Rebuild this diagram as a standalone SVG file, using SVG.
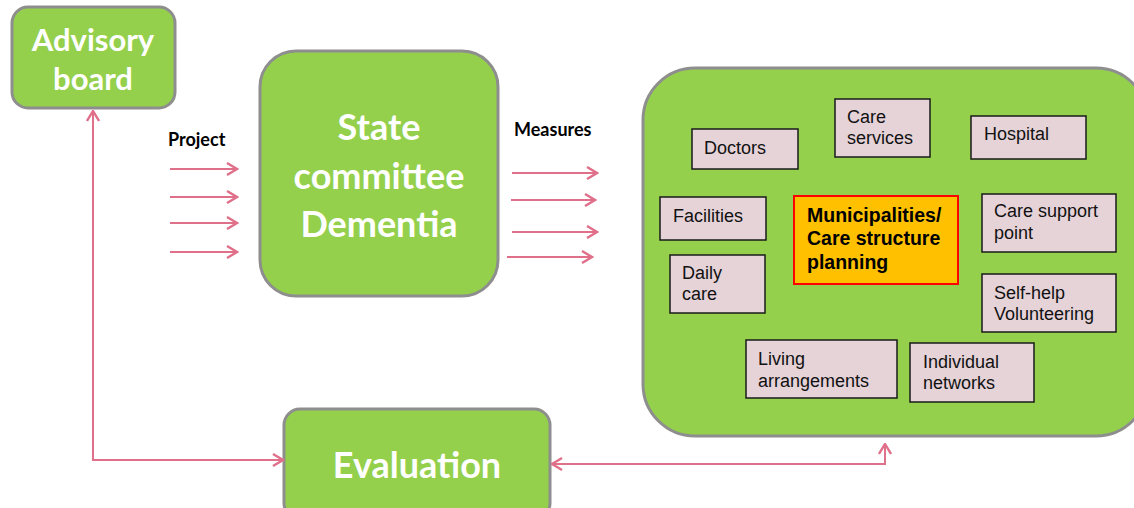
<svg xmlns="http://www.w3.org/2000/svg" width="1134" height="508" viewBox="0 0 1134 508">
  <style>
    .green { fill: #94d04c; stroke: #8e8e8e; stroke-width: 3; }
    .big { font-family: Lato, "Open Sans", "Liberation Sans", sans-serif; font-weight: bold; fill: #ffffff; text-anchor: middle; }
    .lbl { font-family: Lato, "Liberation Sans", sans-serif; font-weight: bold; font-size: 18px; fill: #000000; }
    .item rect { fill: #e6d3d8; stroke: #1a1a1a; stroke-width: 1.5; }
    .item text { font-family: "Liberation Sans", Arial, sans-serif; font-size: 18px; fill: #111111; }
    .link { fill: none; stroke: #e0708a; stroke-width: 2; }
  </style>
  <defs>
    <marker id="head" viewBox="0 0 14 14" refX="12.5" refY="7" markerWidth="14" markerHeight="14" markerUnits="userSpaceOnUse" orient="auto-start-reverse">
      <path d="M2.5,1 L12.5,7 L2.5,13" fill="none" stroke="#e0708a" stroke-width="2.4"/>
    </marker>
  </defs>

  <!-- main blocks -->
  <g id="advisory-board">
    <rect class="green" x="12" y="7" width="163" height="101" rx="16"/>
    <text class="big" font-size="31" x="93" y="51">Advisory</text>
    <text class="big" font-size="31" x="93" y="90">board</text>
  </g>

  <g id="state-committee">
    <rect class="green" x="260" y="51" width="238" height="245" rx="36"/>
    <text class="big" font-size="36" x="379" y="140">State</text>
    <text class="big" font-size="36" x="379" y="189">committee</text>
    <text class="big" font-size="36" x="379" y="237">Dementia</text>
  </g>

  <g id="evaluation">
    <rect class="green" x="284" y="409" width="266" height="110" rx="16"/>
    <text class="big" font-size="36" x="417" y="478">Evaluation</text>
  </g>

  <g id="care-network">
    <rect class="green" x="643" y="68" width="505" height="368" rx="52"/>
  </g>

  <!-- labels -->
  <text class="lbl" x="168" y="146">Project</text>
  <text class="lbl" x="514" y="136">Measures</text>

  <!-- care network items -->
  <g id="doctors" class="item">
    <rect x="692" y="129" width="106" height="40"/>
    <text x="704" y="154">Doctors</text>
  </g>
  <g id="care-services" class="item">
    <rect x="835" y="99" width="95" height="58"/>
    <text x="847" y="123">Care</text>
    <text x="847" y="144">services</text>
  </g>
  <g id="hospital" class="item">
    <rect x="971" y="116" width="115" height="43"/>
    <text x="984" y="140">Hospital</text>
  </g>
  <g id="facilities" class="item">
    <rect x="660" y="197" width="106" height="43"/>
    <text x="673" y="222">Facilities</text>
  </g>
  <g id="municipalities">
    <rect x="794" y="196" width="164" height="88" fill="#ffc000" stroke="#ff0000" stroke-width="2"/>
    <text font-family="'Liberation Sans', Arial, sans-serif" font-weight="bold" font-size="19.5" fill="#000000">
      <tspan x="807" y="222">Municipalities/</tspan>
      <tspan x="807" y="245">Care structure</tspan>
      <tspan x="807" y="269">planning</tspan>
    </text>
  </g>
  <g id="care-support-point" class="item">
    <rect x="982" y="194" width="134" height="58"/>
    <text x="994" y="217">Care support</text>
    <text x="994" y="239">point</text>
  </g>
  <g id="daily-care" class="item">
    <rect x="670" y="255" width="95" height="58"/>
    <text x="682" y="279">Daily</text>
    <text x="682" y="300">care</text>
  </g>
  <g id="self-help" class="item">
    <rect x="982" y="274" width="134" height="58"/>
    <text x="994" y="299">Self-help</text>
    <text x="994" y="320">Volunteering</text>
  </g>
  <g id="living-arrangements" class="item">
    <rect x="746" y="340" width="151" height="58"/>
    <text x="758" y="365">Living</text>
    <text x="758" y="387">arrangements</text>
  </g>
  <g id="individual-networks" class="item">
    <rect x="910" y="343" width="124" height="59"/>
    <text x="923" y="368">Individual</text>
    <text x="923" y="389">networks</text>
  </g>

  <!-- connectors -->
  <g id="connectors">
    <line class="link" x1="170" y1="169" x2="237" y2="169" marker-end="url(#head)"/>
    <line class="link" x1="170" y1="197" x2="237" y2="197" marker-end="url(#head)"/>
    <line class="link" x1="170" y1="223" x2="237" y2="223" marker-end="url(#head)"/>
    <line class="link" x1="170" y1="252" x2="237" y2="252" marker-end="url(#head)"/>

    <line class="link" x1="512" y1="173" x2="597" y2="173" marker-end="url(#head)"/>
    <line class="link" x1="511" y1="200" x2="595" y2="200" marker-end="url(#head)"/>
    <line class="link" x1="512" y1="232" x2="597" y2="232" marker-end="url(#head)"/>
    <line class="link" x1="507" y1="257" x2="592" y2="257" marker-end="url(#head)"/>

    <path class="link" d="M93,111 L93,460 L283,460" marker-start="url(#head)" marker-end="url(#head)"/>
    <path class="link" d="M552,464 L885,464 L885,444" marker-start="url(#head)" marker-end="url(#head)"/>
  </g>
</svg>
